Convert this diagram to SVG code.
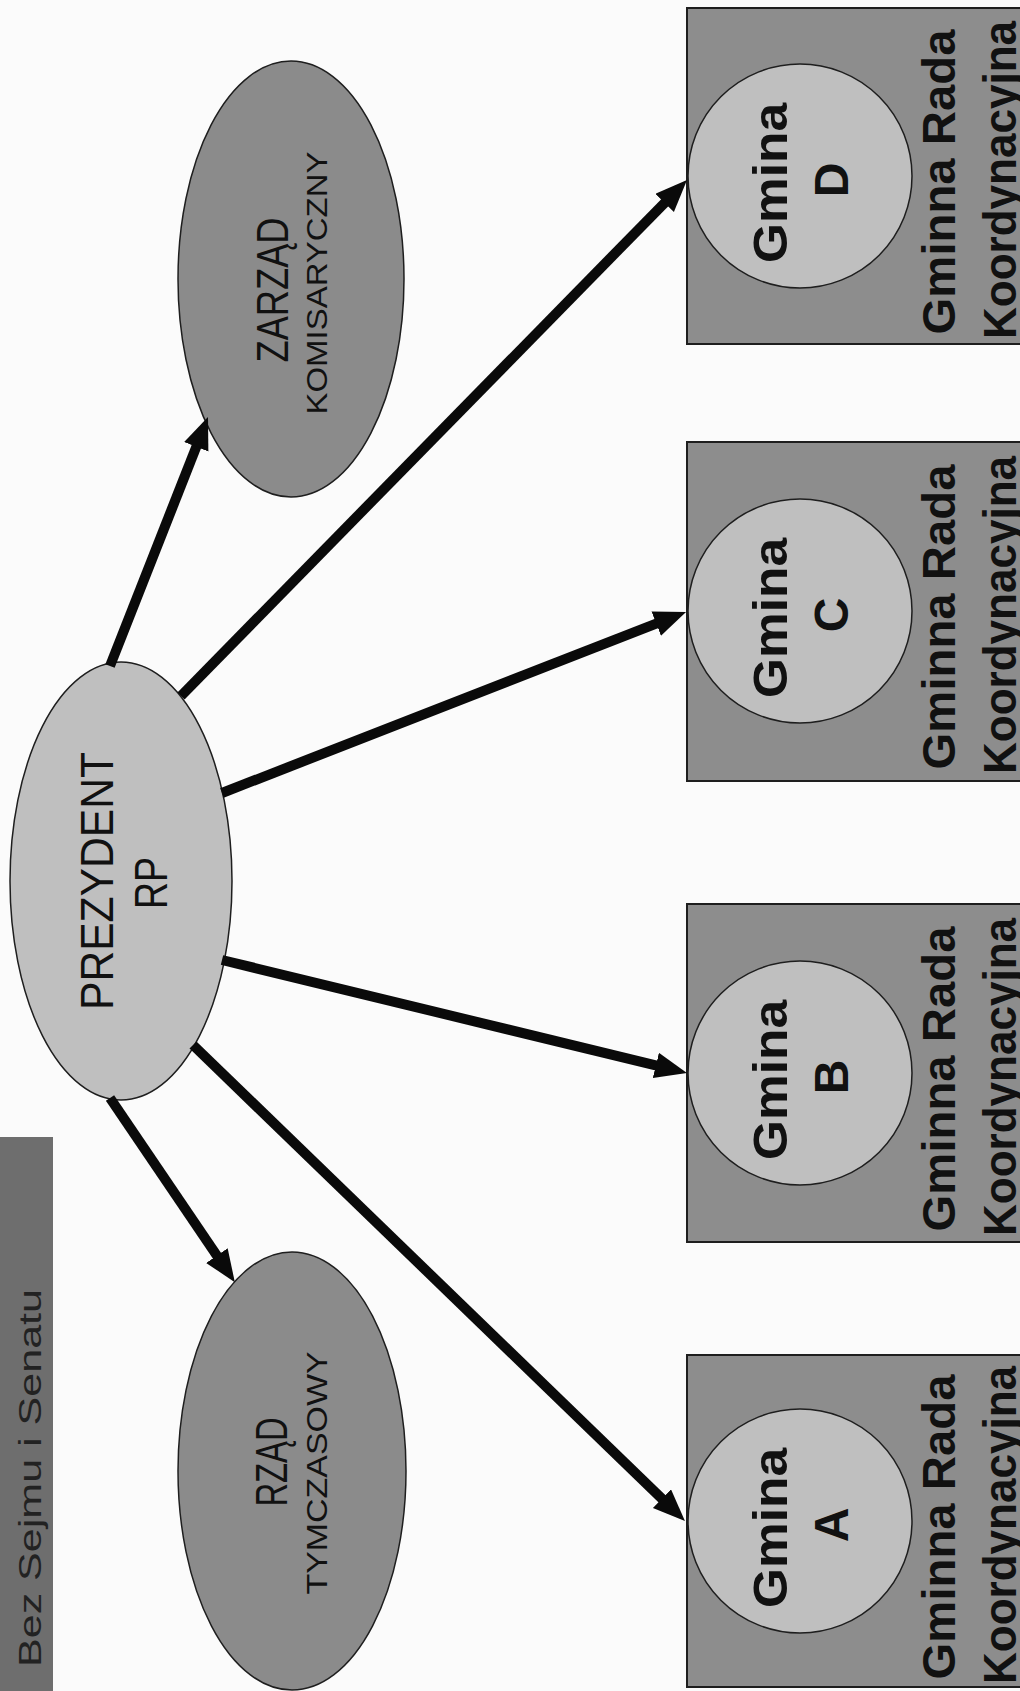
<svg xmlns="http://www.w3.org/2000/svg" width="1020" height="1691" viewBox="0 0 1020 1691">
<defs>
<style>
.bg{fill:#fbfbfb}
.dark{fill:#8b8b8b;stroke:#1e1e1e;stroke-width:1.5}
.light{fill:#bfbfbf;stroke:#1e1e1e;stroke-width:1.5}
.box{fill:#8d8d8d;stroke:#1e1e1e;stroke-width:2}
.title{fill:#6e6e6e}
.t{font-family:"Liberation Sans",Arial,sans-serif;fill:#111;text-anchor:middle}
.b{font-weight:bold}
.conn{stroke:#0a0a0a;stroke-width:10;fill:none;marker-end:url(#ah)}
</style>
<marker id="ah" markerUnits="userSpaceOnUse" markerWidth="34" markerHeight="28" refX="2" refY="13" orient="auto">
<path d="M0,0 L32,13 L0,26 z" fill="#0a0a0a"/>
</marker>
</defs>
<rect class="bg" x="0" y="0" width="1020" height="1691"/>

<g id="title">
<rect class="title" x="-2" y="1137" width="55" height="560"/>
<text class="t" style="fill:#222" font-size="32" textLength="378" lengthAdjust="spacingAndGlyphs" transform="translate(41,1478) rotate(-90)">Bez Sejmu i Senatu</text>
</g>

<g id="prezydent">
<ellipse class="light" cx="121" cy="881" rx="111" ry="219"/>
<text class="t" font-size="46" textLength="258" lengthAdjust="spacingAndGlyphs" transform="translate(113,881) rotate(-90)">PREZYDENT</text>
<text class="t" font-size="46" textLength="52" lengthAdjust="spacingAndGlyphs" transform="translate(167,883) rotate(-90)">RP</text>
</g>

<g id="zarzad">
<ellipse class="dark" cx="291" cy="279" rx="113" ry="218"/>
<text class="t" font-size="45" textLength="145" lengthAdjust="spacingAndGlyphs" transform="translate(288,290) rotate(-90)">ZARZĄD</text>
<text class="t" font-size="30" textLength="263" lengthAdjust="spacingAndGlyphs" transform="translate(327,283) rotate(-90)">KOMISARYCZNY</text>
</g>

<g id="rzad">
<ellipse class="dark" cx="292" cy="1471" rx="114" ry="219"/>
<text class="t" font-size="45" textLength="89" lengthAdjust="spacingAndGlyphs" transform="translate(287,1462) rotate(-90)">RZĄD</text>
<text class="t" font-size="30" textLength="243" lengthAdjust="spacingAndGlyphs" transform="translate(327,1473) rotate(-90)">TYMCZASOWY</text>
</g>

<g id="gmina-d">
<rect class="box" x="687" y="8" width="340" height="336"/>
<circle class="light" cx="800" cy="176" r="112"/>
<text class="t b" font-size="48" textLength="160" lengthAdjust="spacingAndGlyphs" transform="translate(787,183) rotate(-90)">Gmina</text>
<text class="t b" font-size="48" transform="translate(848,180) rotate(-90)">D</text>
<text class="t b" font-size="46" textLength="305" lengthAdjust="spacingAndGlyphs" transform="translate(955,182) rotate(-90)">Gminna Rada</text>
<text class="t b" font-size="46" textLength="318" lengthAdjust="spacingAndGlyphs" transform="translate(1016,180) rotate(-90)">Koordynacyjna</text>
</g>

<g id="gmina-c">
<rect class="box" x="687" y="442" width="340" height="339"/>
<circle class="light" cx="800" cy="611" r="112"/>
<text class="t b" font-size="48" textLength="160" lengthAdjust="spacingAndGlyphs" transform="translate(787,618) rotate(-90)">Gmina</text>
<text class="t b" font-size="48" transform="translate(848,615) rotate(-90)">C</text>
<text class="t b" font-size="46" textLength="305" lengthAdjust="spacingAndGlyphs" transform="translate(955,617) rotate(-90)">Gminna Rada</text>
<text class="t b" font-size="46" textLength="318" lengthAdjust="spacingAndGlyphs" transform="translate(1016,615) rotate(-90)">Koordynacyjna</text>
</g>

<g id="gmina-b">
<rect class="box" x="687" y="904" width="340" height="338"/>
<circle class="light" cx="800" cy="1073" r="112"/>
<text class="t b" font-size="48" textLength="160" lengthAdjust="spacingAndGlyphs" transform="translate(787,1080) rotate(-90)">Gmina</text>
<text class="t b" font-size="48" transform="translate(848,1077) rotate(-90)">B</text>
<text class="t b" font-size="46" textLength="305" lengthAdjust="spacingAndGlyphs" transform="translate(955,1079) rotate(-90)">Gminna Rada</text>
<text class="t b" font-size="46" textLength="318" lengthAdjust="spacingAndGlyphs" transform="translate(1016,1077) rotate(-90)">Koordynacyjna</text>
</g>

<g id="gmina-a">
<rect class="box" x="687" y="1355" width="340" height="332"/>
<circle class="light" cx="800" cy="1521" r="112"/>
<text class="t b" font-size="48" textLength="160" lengthAdjust="spacingAndGlyphs" transform="translate(787,1528) rotate(-90)">Gmina</text>
<text class="t b" font-size="48" transform="translate(848,1525) rotate(-90)">A</text>
<text class="t b" font-size="46" textLength="305" lengthAdjust="spacingAndGlyphs" transform="translate(955,1527) rotate(-90)">Gminna Rada</text>
<text class="t b" font-size="46" textLength="318" lengthAdjust="spacingAndGlyphs" transform="translate(1016,1525) rotate(-90)">Koordynacyjna</text>
</g>

<g id="connectors">
<line class="conn" x1="110" y1="666" x2="197" y2="445"/>
<line class="conn" x1="181" y1="696" x2="666" y2="201.4"/>
<line class="conn" x1="222" y1="793" x2="658.1" y2="622.9"/>
<line class="conn" x1="222" y1="960" x2="657.8" y2="1065.9"/>
<line class="conn" x1="193" y1="1045" x2="663.4" y2="1500.1"/>
<line class="conn" x1="110" y1="1098" x2="218" y2="1257.3"/>
</g>
</svg>
